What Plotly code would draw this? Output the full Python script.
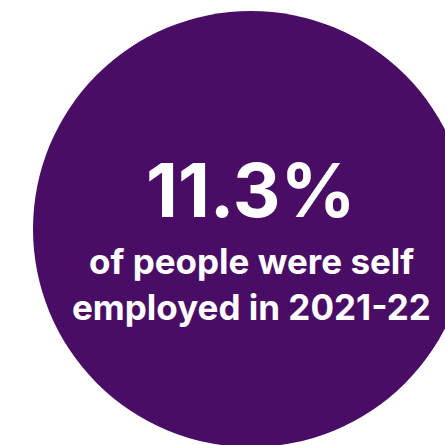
"""Self-employment headline figure."""
import plotly.graph_objects as go

# data
headline_value = [11.3]
headline_unit = ["%"]
caption_lines = ["of people were self", "employed in 2021-22"]

PURPLE = "#4A0D66"
FONT = "Inter"

fig = go.Figure()

# big circle behind the text
fig.add_shape(
    type="circle",
    xref="x", yref="y",
    x0=33, y0=11, x1=469, y1=447,
    fillcolor=PURPLE,
    line={"width": 0},
    layer="below",
)

fig.add_annotation(
    x=251, y=190,
    text=f"{headline_value[0]:.1f}{headline_unit[0]}",
    showarrow=False,
    font={"family": FONT, "size": 74, "color": "white", "weight": "bold"},
    xanchor="center", yanchor="middle",
)
for i, line in enumerate(caption_lines):
    fig.add_annotation(
        x=251, y=261 + i * 46,
        text=line,
        showarrow=False,
        font={"family": FONT, "size": 35, "color": "white", "weight": "bold"},
        xanchor="center", yanchor="middle",
    )

fig.update_layout(
    width=445,
    height=445,
    margin={"l": 0, "r": 0, "t": 0, "b": 0},
    plot_bgcolor="#ffffff",
    paper_bgcolor="#ffffff",
    showlegend=False,
)
fig.update_xaxes(range=[0, 445], visible=False, fixedrange=True)
fig.update_yaxes(range=[445, 0], visible=False, fixedrange=True)

fig.write_html(
    "out.html",
    config={"displayModeBar": False},
    post_script="document.body.style.margin = '0';",
)
